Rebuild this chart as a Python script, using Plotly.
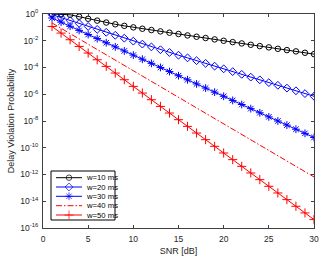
import plotly.graph_objects as go

# ---------------- data ----------------
snr_db = list(range(1, 31))

p_w10 = [1.0, 0.98, 0.87, 0.63, 0.44, 0.32, 0.23, 0.17, 0.13, 0.10,
         0.079, 0.063, 0.050, 0.040, 0.032, 0.025, 0.020, 0.016, 0.0126, 0.010,
         7.9e-3, 6.3e-3, 5.0e-3, 4.0e-3, 3.2e-3, 2.5e-3, 2.0e-3, 1.6e-3, 1.26e-3, 1.0e-3]

p_w20 = [0.891, 0.537, 0.324, 0.195, 0.117, 0.0708, 0.0427, 0.0257, 0.0155, 9.33e-3,
         5.62e-3, 3.47e-3, 2.14e-3, 1.33e-3, 8.32e-4, 5.25e-4, 3.24e-4, 2.04e-4, 1.26e-4, 7.94e-5,
         4.90e-5, 3.09e-5, 1.91e-5, 1.20e-5, 7.41e-6, 4.68e-6, 2.88e-6, 1.82e-6, 1.12e-6, 7.08e-7]

p_w30 = [0.501, 0.247, 0.121, 0.0597, 0.0294, 0.0145, 7.11e-3, 3.50e-3, 1.72e-3, 8.47e-4,
         4.17e-4, 2.05e-4, 1.01e-4, 4.97e-5, 2.44e-5, 1.20e-5, 5.92e-6, 2.91e-6, 1.43e-6, 7.05e-7,
         3.47e-7, 1.71e-7, 8.39e-8, 4.13e-8, 2.03e-8, 1.00e-8, 4.92e-9, 2.42e-9, 1.19e-9, 5.86e-10]

p_w40 = [0.214, 0.0857, 0.0344, 0.0138, 5.52e-3, 2.21e-3, 8.87e-4, 3.56e-4, 1.43e-4, 5.71e-5,
         2.29e-5, 9.18e-6, 3.68e-6, 1.48e-6, 5.92e-7, 2.37e-7, 9.51e-8, 3.81e-8, 1.53e-8, 6.12e-9,
         2.45e-9, 9.84e-10, 3.94e-10, 1.58e-10, 6.34e-11, 2.54e-11, 1.02e-11, 4.08e-12, 1.64e-12, 6.56e-13]

p_w50 = [0.117, 0.0373, 0.0119, 3.77e-3, 1.20e-3, 3.80e-4, 1.21e-4, 3.84e-5, 1.22e-5, 3.87e-6,
         1.23e-6, 3.91e-7, 1.24e-7, 3.94e-8, 1.25e-8, 3.98e-9, 1.26e-9, 4.02e-10, 1.28e-10, 4.06e-11,
         1.29e-11, 4.09e-12, 1.30e-12, 4.13e-13, 1.31e-13, 4.17e-14, 1.32e-14, 4.21e-15, 1.34e-15, 4.25e-16]

series_names = ["w=10 ms", "w=20 ms", "w=30 ms", "w=40 ms", "w=50 ms"]

x_tick_vals = [0, 5, 10, 15, 20, 25, 30]
y_tick_vals = [1e0, 1e-2, 1e-4, 1e-6, 1e-8, 1e-10, 1e-12, 1e-14, 1e-16]
y_tick_text = ["10<sup>0</sup>", "10<sup>-2</sup>", "10<sup>-4</sup>", "10<sup>-6</sup>",
               "10<sup>-8</sup>", "10<sup>-10</sup>", "10<sup>-12</sup>", "10<sup>-14</sup>",
               "10<sup>-16</sup>"]

# ---------------- styles ----------------
styles = [
    dict(color="#000000", symbol="circle-open", size=5.5, dash="solid", mode="lines+markers"),
    dict(color="#0000FF", symbol="diamond-open", size=6, dash="solid", mode="lines+markers"),
    dict(color="#0000FF", symbol="asterisk-open", size=6.5, dash="solid", mode="lines+markers"),
    dict(color="#FF0000", symbol="circle", size=1, dash="6px,2px,1.5px,2px", mode="lines"),
    dict(color="#FF0000", symbol="cross-thin-open", size=6.5, dash="solid", mode="lines+markers"),
]
all_series = [p_w10, p_w20, p_w30, p_w40, p_w50]

TXT = "#262626"
FONT = "Liberation Sans, Arial, sans-serif"

fig = go.Figure()
for name, ys, st in zip(series_names, all_series, styles):
    fig.add_trace(go.Scatter(
        x=snr_db, y=ys, name=name, mode=st["mode"], showlegend=False,
        line=dict(color=st["color"], width=1, dash=st["dash"]),
        marker=dict(symbol=st["symbol"], size=st["size"], color=st["color"],
                    line=dict(color=st["color"], width=1)),
    ))

# ---------------- legend (drawn on a hidden overlay axis in pixel units) ----------------
L, R, T, B = 43, 19, 14, 32
W, H = 333, 260
box_x0, box_x1, box_y0, box_y1 = 51, 115, 171, 220
row_y = [177.7, 187.0, 196.3, 205.7, 215.0]
sample_x0, sample_x1, text_x = 56, 82, 84

fig.add_shape(type="rect", xref="x2", yref="y2", x0=box_x0, x1=box_x1, y0=box_y0, y1=box_y1,
              line=dict(color="#000000", width=1), fillcolor="white", layer="below")
for name, st, ry in zip(series_names, styles, row_y):
    fig.add_trace(go.Scatter(
        x=[sample_x0, (sample_x0 + sample_x1) / 2, sample_x1], y=[ry, ry, ry],
        xaxis="x2", yaxis="y2", mode=st["mode"], showlegend=False, hoverinfo="skip",
        line=dict(color=st["color"], width=1, dash=st["dash"]),
        marker=dict(symbol=st["symbol"], size=[0, st["size"], 0], color=st["color"],
                    line=dict(color=st["color"], width=1)),
    ))
    fig.add_annotation(x=text_x, y=ry, xref="x2", yref="y2", text=name, showarrow=False,
                       xanchor="left", yanchor="middle",
                       font=dict(family=FONT, size=7.7, color="#000000"))

axis_common = dict(showline=True, linecolor="#404040", linewidth=1, mirror="ticks",
                   ticks="inside", ticklen=3, tickcolor="#404040", showgrid=False,
                   zeroline=False, automargin=False,
                   tickfont=dict(family=FONT, size=8.5, color=TXT))

fig.update_layout(
    width=W, height=H,
    margin=dict(l=L, r=R, t=T, b=B, pad=0, autoexpand=False),
    paper_bgcolor="white", plot_bgcolor="white",
    font=dict(family=FONT, color=TXT),
    xaxis=dict(range=[0, 30], tickvals=x_tick_vals, ticklabelstandoff=3,
               title=dict(text="SNR [dB]", font=dict(family=FONT, size=9, color=TXT), standoff=4),
               **axis_common),
    yaxis=dict(type="log", range=[-16, 0], tickvals=y_tick_vals, ticktext=y_tick_text,
               ticklabelstandoff=2,
               title=dict(text="Delay Violation Probability", font=dict(family=FONT, size=9, color=TXT),
                          standoff=4),
               **axis_common),
    xaxis2=dict(overlaying="x", range=[L, W - R], visible=False, fixedrange=True),
    yaxis2=dict(overlaying="y", range=[H - B, T], visible=False, fixedrange=True),
)

fig.write_html("out.html", config={"displayModeBar": False},
               post_script="document.body.style.margin='0px';document.body.style.overflow='hidden';")
